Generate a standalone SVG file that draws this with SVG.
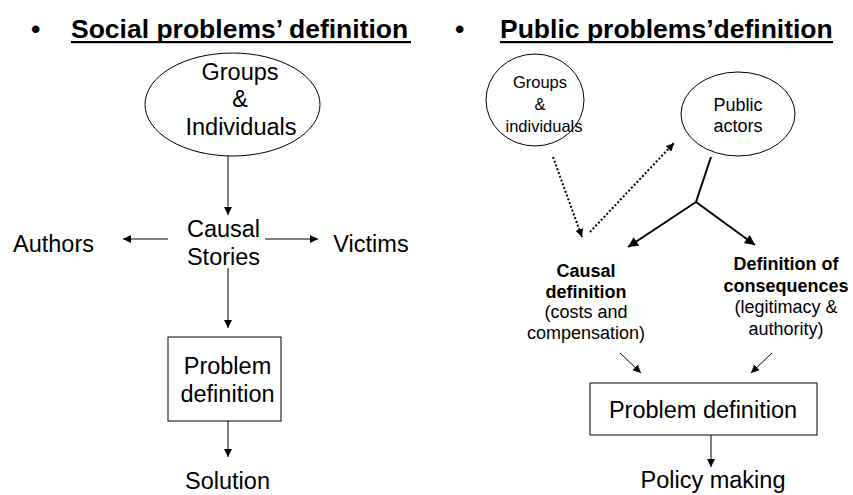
<svg xmlns="http://www.w3.org/2000/svg" width="853" height="495" viewBox="0 0 853 495">
<defs>
<marker id="ah" viewBox="0 0 10 10" refX="10" refY="5" markerWidth="8" markerHeight="8" markerUnits="userSpaceOnUse" orient="auto">
<path d="M0,0 L10,5 L0,10 z" fill="#000"/>
</marker>
<marker id="ahb" viewBox="0 0 10 10" refX="10" refY="5" markerWidth="11" markerHeight="10" markerUnits="userSpaceOnUse" orient="auto">
<path d="M0,0 L10,5 L0,10 z" fill="#000"/>
</marker>
</defs>
<style>
text{font-family:"Liberation Sans",Arial,sans-serif;fill:#000}
.t{font-size:26.5px;font-weight:bold}
.l{font-size:23.5px;text-anchor:middle}
.g{font-size:16.5px;text-anchor:middle}
.r{font-size:18px;text-anchor:middle}
.rb{font-size:18px;font-weight:bold;text-anchor:middle}
.shape{fill:#fff;stroke:#000;stroke-width:1}
.c{stroke:#000;stroke-width:1;fill:none;marker-end:url(#ah)}
.d{stroke:#000;stroke-width:2;stroke-dasharray:2 2;fill:none;marker-end:url(#ah)}
.s{stroke:#000;stroke-width:2;fill:none}
.sa{stroke:#000;stroke-width:2;fill:none;marker-end:url(#ahb)}
</style>
<g id="title-left">
<text class="t" x="31" y="38">•</text>
<text class="t" x="71" y="38">Social problems’ definition</text>
<rect x="71" y="41" width="340" height="2.2" fill="#000"/>
</g>
<g id="title-right">
<text class="t" x="455" y="38">•</text>
<text class="t" x="500" y="38">Public problems’definition</text>
<rect x="500" y="41" width="333" height="2.2" fill="#000"/>
</g>
<g id="groups-left">
<ellipse class="shape" cx="232.5" cy="104.5" rx="87.5" ry="51.5"/>
<text class="l" x="240" y="80">Groups</text>
<text class="l" x="240" y="107">&amp;</text>
<text class="l" x="241" y="135">Individuals</text>
</g>
<g id="causal-stories">
<text class="l" x="223.5" y="237">Causal</text>
<text class="l" x="223.5" y="265">Stories</text>
</g>
<g id="authors"><text class="l" x="53.5" y="252">Authors</text></g>
<g id="victims"><text class="l" x="371" y="252">Victims</text></g>
<g id="problem-left">
<rect class="shape" x="168" y="337" width="113" height="84"/>
<text class="l" x="227.5" y="374">Problem</text>
<text class="l" x="227.5" y="402">definition</text>
</g>
<g id="solution"><text class="l" x="227.5" y="489">Solution</text></g>
<g id="groups-right">
<ellipse class="shape" cx="535" cy="100" rx="49" ry="46"/>
<text class="g" x="540" y="88">Groups</text>
<text class="g" x="540" y="110">&amp;</text>
<text class="g" x="544" y="132">individuals</text>
</g>
<g id="public-actors">
<ellipse class="shape" cx="738" cy="114" rx="57" ry="42"/>
<text class="r" x="738" y="111">Public</text>
<text class="r" x="738" y="132">actors</text>
</g>
<g id="causal-def">
<text class="rb" x="586" y="277">Causal</text>
<text class="rb" x="586" y="298">definition</text>
<text class="r" x="586" y="318">(costs and</text>
<text class="r" x="586" y="339">compensation)</text>
</g>
<g id="consequences">
<text class="rb" x="786" y="270">Definition of</text>
<text class="rb" x="786" y="292">consequences</text>
<text class="r" x="786" y="313">(legitimacy &amp;</text>
<text class="r" x="786" y="335">authority)</text>
</g>
<g id="problem-right">
<rect class="shape" x="590" y="383" width="227" height="52"/>
<text class="l" x="703" y="418">Problem definition</text>
</g>
<g id="policy"><text class="l" x="713" y="488">Policy making</text></g>
<g id="connectors">
<line class="c" x1="228" y1="156" x2="228" y2="215"/>
<line class="c" x1="168" y1="239" x2="123" y2="239"/>
<line class="c" x1="265" y1="239" x2="318" y2="239"/>
<line class="c" x1="228" y1="268" x2="228" y2="328"/>
<line class="c" x1="228" y1="421" x2="228" y2="457"/>
<line class="d" x1="553" y1="157" x2="582" y2="237"/>
<line class="d" x1="590" y1="232" x2="674" y2="143"/>
<line class="s" x1="711" y1="157" x2="696" y2="202"/>
<line class="sa" x1="696" y1="202" x2="628" y2="247"/>
<line class="sa" x1="696" y1="202" x2="755" y2="245"/>
<line class="c" x1="620" y1="353" x2="641" y2="373"/>
<line class="c" x1="772" y1="353" x2="751" y2="373"/>
<line class="c" x1="711" y1="435" x2="711" y2="467"/>
</g>
</svg>
